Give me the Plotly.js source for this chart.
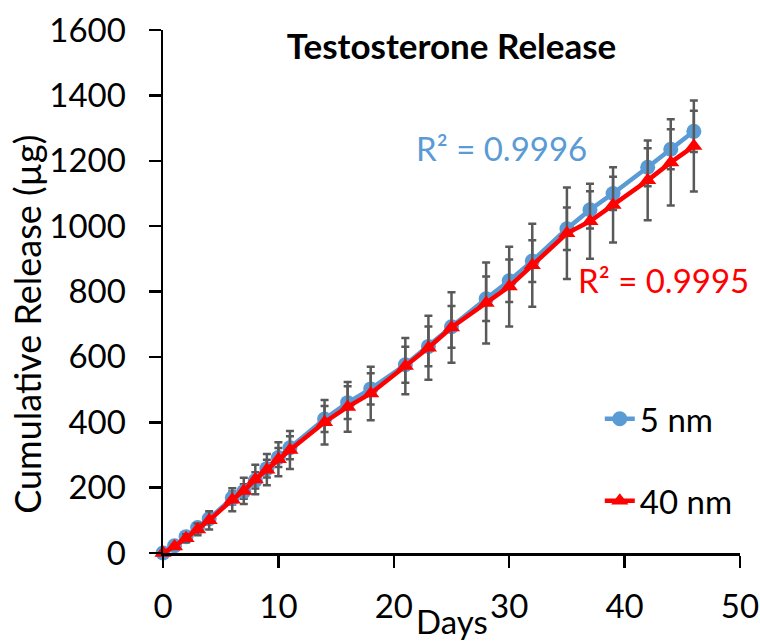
<!DOCTYPE html>
<html>
<head>
<meta charset="utf-8">
<script src="https://cdn.plot.ly/plotly-3.0.1.min.js"></script>
<style>html,body{margin:0;padding:0;background:#fff;}#chart{width:760px;height:641px;}</style>
</head>
<body>
<div id="chart"></div>
<script>
// Data
const days = [0, 1, 2, 3, 4, 6, 7, 8, 9, 10, 11, 14, 16, 18, 21, 23, 25, 28, 30, 32, 35, 37, 39, 42, 44, 46];
const release5nm = [0, 22, 50, 78, 105, 168, 188, 222, 258, 292, 322, 410, 460, 502, 576, 632, 692, 778, 833, 893, 992, 1050, 1100, 1180, 1235, 1290];
const err5nm = [0, 3, 6, 10, 14, 20, 22, 25, 27, 29, 35, 40, 50, 48, 55, 61, 64, 68, 65, 64, 65, 57, 51, 58, 61, 63];
const release40nm = [0, 20, 45, 72, 100, 163, 190, 225, 255, 287, 315, 400, 447, 488, 572, 628, 690, 765, 815, 880, 978, 1015, 1065, 1140, 1195, 1245];
const err40nm = [0, 5, 12, 18, 28, 35, 40, 45, 48, 52, 58, 68, 76, 82, 86, 98, 108, 124, 122, 127, 140, 115, 115, 122, 132, 139];
const seriesNames = ["5 nm", "40 nm"];
const r2Labels = ["R² = 0.9996", "R² = 0.9995"];
const xTicks = [0, 10, 20, 30, 40, 50];
const yTicks = [0, 200, 400, 600, 800, 1000, 1200, 1400, 1600];

const FONT = "Lato, 'Open Sans', sans-serif";
const BLUE = "#5B9BD5";
const RED = "#FF0000";
const ERRC = "#595959";

const traces = [
  {
    x: days, y: release5nm, name: seriesNames[0], type: "scatter", mode: "lines+markers",
    legendgroup: "a",
    line: {color: BLUE, width: 4.5},
    marker: {color: BLUE, size: 15, symbol: "circle"},
    error_y: {type: "data", array: err5nm, visible: true, color: ERRC, thickness: 2.5, width: 4},
    cliponaxis: false
  },
  {
    x: days, y: release40nm, name: seriesNames[1], type: "scatter", mode: "lines+markers",
    legendgroup: "b",
    line: {color: RED, width: 4.5},
    marker: {color: RED, size: 15, symbol: "triangle-up"},
    error_y: {type: "data", array: err40nm, visible: true, color: ERRC, thickness: 2.5, width: 4},
    cliponaxis: false
  }
];

const layout = {
  width: 760, height: 641,
  margin: {l: 163, r: 20, t: 30, b: 88},
  paper_bgcolor: "#fff", plot_bgcolor: "#fff",
  font: {family: FONT, size: 33, color: "#000"},
  title: {
    text: "<b>Testosterone Release</b>",
    font: {family: FONT, size: 35, color: "#000"},
    x: 0.5, xref: "paper", xanchor: "center",
    y: 1 - 47/641, yref: "container", yanchor: "middle"
  },
  xaxis: {
    range: [0, 50], tickvals: xTicks, ticktext: xTicks.map(String),
    showgrid: false, zeroline: false,
    showline: true, linecolor: "#000", linewidth: 2.5,
    ticks: "outside", ticklen: 12, tickwidth: 2.5, tickcolor: "#000",
    tickfont: {family: FONT, size: 33, color: "#000"},
    ticklabelstandoff: 11
  },
  yaxis: {
    range: [0, 1600], tickvals: yTicks, ticktext: yTicks.map(String),
    showgrid: false, zeroline: false,
    showline: true, linecolor: "#000", linewidth: 2.5,
    ticks: "outside", ticklen: 12, tickwidth: 2.5, tickcolor: "#000",
    tickfont: {family: FONT, size: 33, color: "#000"},
    ticklabelstandoff: 16
  },
  showlegend: true,
  legend: {
    x: 0.757, xanchor: "left", y: 0.31, yanchor: "top",
    font: {family: FONT, size: 33, color: "#000"},
    bgcolor: "rgba(0,0,0,0)", borderwidth: 0,
    traceorder: "grouped", tracegroupgap: 36, itemwidth: 30
  },
  annotations: [
    {text: r2Labels[0], x: 29.3, y: 1239, xref: "x", yref: "y", showarrow: false,
     font: {family: FONT, size: 33, color: BLUE}, xanchor: "center", yanchor: "middle"},
    {text: r2Labels[1], x: 43.4, y: 835, xref: "x", yref: "y", showarrow: false,
     font: {family: FONT, size: 33, color: RED}, xanchor: "center", yanchor: "middle"},
    {text: "Days", x: 0.5, y: -0.13, xref: "paper", yref: "paper", showarrow: false,
     font: {family: FONT, size: 33, color: "#000"}, xanchor: "center", yanchor: "middle"},
    {text: "Cumulative Release (µg)", x: -0.236, y: 0.438, xref: "paper", yref: "paper", showarrow: false,
     textangle: -90, font: {family: FONT, size: 36, color: "#000"}, xanchor: "center", yanchor: "middle"}
  ]
};

Plotly.newPlot("chart", traces, layout, {displayModeBar: false, staticPlot: true});
</script>
</body>
</html>
